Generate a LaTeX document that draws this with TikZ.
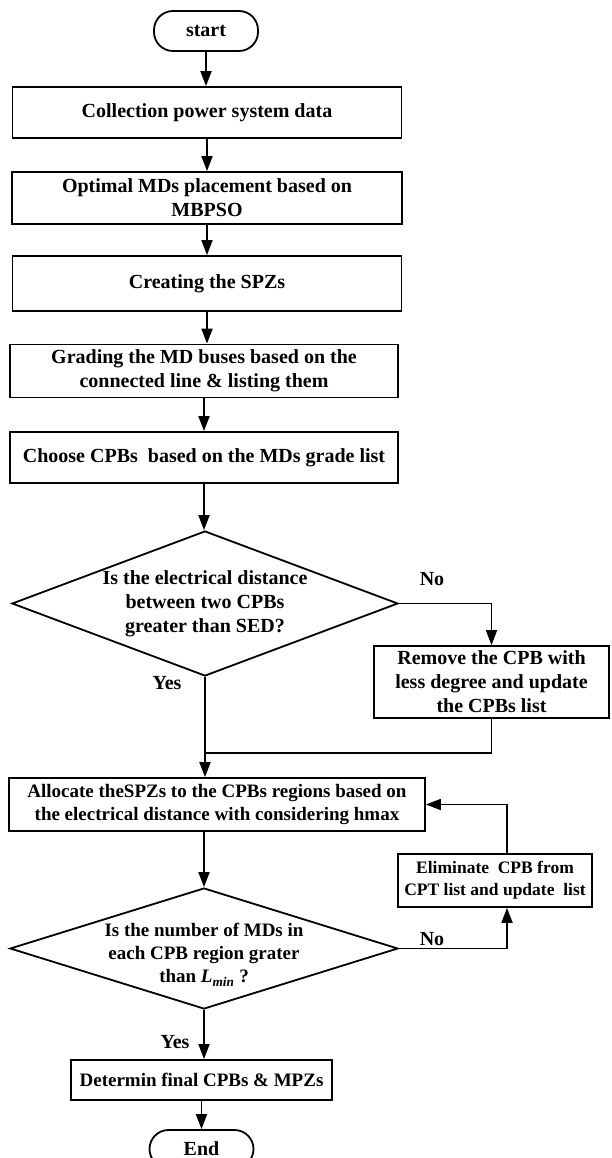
\documentclass[tikz,border=0pt]{standalone}
\usepackage{fontspec}
\setmainfont{Liberation Serif}
\usetikzlibrary{arrows.meta,shapes.geometric}

\begin{document}
\begin{tikzpicture}[x=1pt,y=-1pt,
		every node/.style={font=\fontsize{20}{24}\selectfont\bfseries},
		box/.style={draw, line width=1.8pt, inner sep=0pt, align=center},
		term/.style={box, rounded corners=19pt, minimum width=104pt, minimum height=40pt},
		decision/.style={box, diamond, inner sep=-4pt},
		arr/.style={line width=1.8pt, -{Triangle[length=15pt,width=11pt]}},
		lin/.style={line width=1.8pt}]
		\useasboundingbox (0,0) rectangle (611,1158);
		\node[term] (start) at (206,31) {start};
		\node[box, minimum width=389pt, minimum height=51pt] (coll) at (207,112.5) {Collection power system data};
		\node[box, minimum width=390pt, minimum height=52pt] (optim) at (207,198) {Optimal MDs placement based on\\MBPSO};
		\node[box, minimum width=389pt, minimum height=55pt] (creat) at (207,283.5) {Creating the SPZs};
		\node[box, minimum width=388pt, minimum height=53pt] (grad) at (204,371) {Grading the MD buses based on the\\connected line \& listing them};
		\node[box, minimum width=388pt, minimum height=51pt] (choose) at (204,457.5) {Choose CPBs~ based on the MDs grade list};
		\node[decision, aspect=2.66, minimum width=386pt, minimum height=145pt] (dec1) at (205,603.5) {Is the electrical distance\\between two CPBs\\greater than SED?};
		\node[box, minimum width=235pt, minimum height=72pt] (remove) at (491.5,682) {Remove the CPB with\\less degree and update\\the CPBs list};
		\node[box, minimum width=416pt, minimum height=53pt, font=\fontsize{19}{23}\selectfont\bfseries] (alloc) at (217,804.5) {Allocate theSPZs to the CPBs regions based on\\the electrical distance with considering hmax};
		\node[box, minimum width=194pt, minimum height=53pt, font=\fontsize{17.5}{22}\selectfont\bfseries] (elim) at (495,880.5) {Eliminate~ CPB from\\CPT list and update~ list};
		\node[decision, aspect=3.2, inner sep=-10pt, minimum width=388pt, minimum height=121pt, font=\fontsize{19}{23}\selectfont\bfseries] (dec2) at (204,948.5) {\rule{0pt}{26pt}Is the number of MDs in\\each CPB region grater\\than {\itshape L\textsubscript{min}} ?};
		\node[box, minimum width=261pt, minimum height=40pt, font=\fontsize{19}{23}\selectfont\bfseries] (determ) at (201.5,1080) {Determin final CPBs \& MPZs};
		\node[term, minimum height=38pt] (endn) at (201.5,1149) {End};
		\node (no1) at (432,579) {No};
		\node (yes1) at (167,683) {Yes};
		\node (no2) at (432,939) {No};
		\node (yes2) at (175,1042) {Yes};
		\coordinate (join) at (205,753);
		\coordinate (loop) at (507,805);
		\foreach \a/\b in {start/coll, coll/optim, optim/creat, creat/grad, grad/choose, choose/dec1, dec1/alloc, dec2/determ, determ/endn}
			\draw[arr] (\a) -- (\a |- \b.north);
		\draw[arr] (alloc.south -| dec2) -- (dec2.north);
		\draw[arr] (dec1.east) -| (remove.north);
		\draw[lin] (remove.south) |- (join);
		\draw[arr] (dec2.east) -| (loop |- elim.south);
		\draw[arr] (loop |- elim.north) |- (alloc.east);
	\end{tikzpicture}
\end{document}
